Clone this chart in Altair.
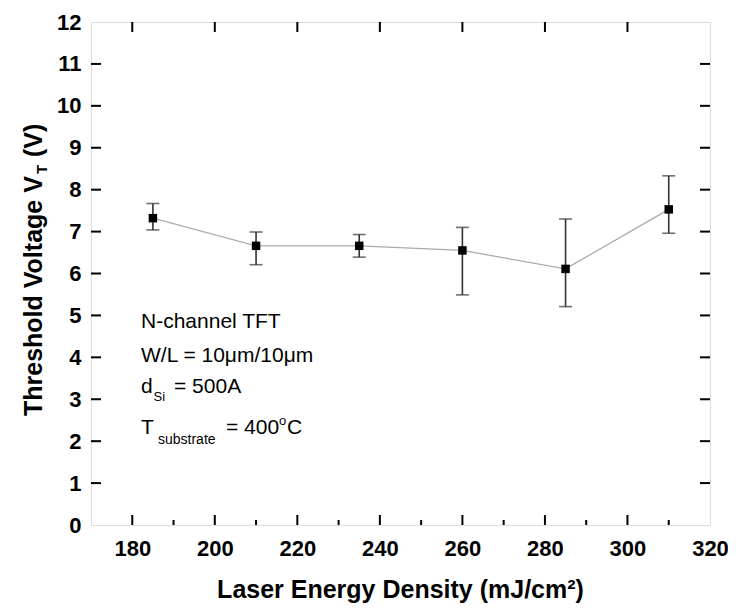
import altair as alt
import pandas as pd

# ---- data ----
energy = [185, 210, 235, 260, 285, 310]
vt = [7.32, 6.66, 6.66, 6.55, 6.11, 7.53]
vt_upper = [7.67, 6.99, 6.93, 7.10, 7.30, 8.33]
vt_lower = [7.04, 6.21, 6.39, 5.49, 5.21, 6.96]

x_labels = [180, 200, 220, 240, 260, 280, 300, 320]
x_major = [180, 200, 220, 240, 260, 280, 300]
x_minor = [190, 210, 230, 250, 270, 290, 310]
y_labels = list(range(0, 13))
y_major = list(range(1, 12))

W, H = 619, 503
FONT = "Liberation Sans"
INK = "#000000"
BAR = "#333333"

df = pd.DataFrame({"E": energy, "V": vt, "hi": vt_upper, "lo": vt_lower})
xs = alt.Scale(domain=[170, 320], nice=False, zero=False)
ys = alt.Scale(domain=[0, 12], nice=False, zero=False)

xaxis = alt.Axis(values=x_labels, title=None, labelFont=FONT, labelFontSize=22,
                 labelFontWeight="bold", labelColor=INK, labelPadding=13,
                 ticks=False, tickSize=0, domain=False, grid=False, labelFlush=False)
yaxis = alt.Axis(values=y_labels, title=None, labelFont=FONT, labelFontSize=22,
                 labelFontWeight="bold", labelColor=INK, labelPadding=10,
                 ticks=False, tickSize=0, domain=False, grid=False, labelFlush=False)

base = alt.Chart(df)
line = base.mark_line(color="#ababab", strokeWidth=1.3).encode(
    x=alt.X("E:Q", scale=xs, axis=xaxis),
    y=alt.Y("V:Q", scale=ys, axis=yaxis),
)
bars = base.mark_rule(color=BAR, strokeWidth=1.6).encode(
    x=alt.X("E:Q", scale=xs), y=alt.Y("lo:Q", scale=ys), y2="hi:Q"
)
cap_hi = base.mark_tick(orient="horizontal", size=13, thickness=1.6, color=BAR).encode(
    x=alt.X("E:Q", scale=xs), y=alt.Y("hi:Q", scale=ys)
)
cap_lo = base.mark_tick(orient="horizontal", size=13, thickness=1.6, color=BAR).encode(
    x=alt.X("E:Q", scale=xs), y=alt.Y("lo:Q", scale=ys)
)
pts = base.mark_square(size=72, color=INK, opacity=1, filled=True).encode(
    x=alt.X("E:Q", scale=xs), y=alt.Y("V:Q", scale=ys)
)

# inward ticks on the frame
xmaj = alt.Chart(pd.DataFrame({"t": x_major}))
xmin = alt.Chart(pd.DataFrame({"t": x_minor}))
ymaj = alt.Chart(pd.DataFrame({"t": y_major}))
tick_layers = [
    xmaj.mark_rule(color=INK, strokeWidth=2).encode(
        x=alt.X("t:Q", scale=xs), y=alt.value(H), y2=alt.value(H - 10)),
    xmin.mark_rule(color=INK, strokeWidth=2).encode(
        x=alt.X("t:Q", scale=xs), y=alt.value(H), y2=alt.value(H - 5)),
    xmaj.mark_rule(color=INK, strokeWidth=2).encode(
        x=alt.X("t:Q", scale=xs), y=alt.value(0), y2=alt.value(10)),
    ymaj.mark_rule(color=INK, strokeWidth=2).encode(
        y=alt.Y("t:Q", scale=ys), x=alt.value(0), x2=alt.value(10)),
    ymaj.mark_rule(color=INK, strokeWidth=2).encode(
        y=alt.Y("t:Q", scale=ys), x=alt.value(W), x2=alt.value(W - 10)),
]

# text pieces: (text, x, y, size, weight, angle)
AX = 50
pieces = [
    ("N-channel TFT", AX, 306, 21, "normal", 0),
    ("W/L = 10\u03bcm/10\u03bcm", AX, 340, 21, "normal", 0),
    ("d", AX, 371, 21, "normal", 0),
    ("Si", AX + 12.5, 379, 13, "normal", 0),
    ("= 500A", AX + 33, 371, 21, "normal", 0),
    ("T", AX, 412, 21, "normal", 0),
    ("substrate", AX + 17, 422, 14, "normal", 0),
    ("= 400", AX + 85, 412, 21, "normal", 0),
    ("o", AX + 138, 403, 13, "normal", 0),
    ("C", AX + 146, 412, 21, "normal", 0),
    # y title (rotated)
    ("Threshold Voltage V", -49, 394, 25, "bold", 270),
    ("T", -44, 152, 15, "bold", 270),
    ("(V)", -49, 135, 25, "bold", 270),
]
text_layers = []
for t, px, py, fs, fw, ang in pieces:
    text_layers.append(
        alt.Chart(pd.DataFrame({"s": [t]})).mark_text(
            align="left", baseline="alphabetic", font=FONT, fontSize=fs,
            fontWeight=fw, color=INK, angle=ang,
        ).encode(x=alt.value(px), y=alt.value(py), text="s:N")
    )
xtitle = alt.Chart(pd.DataFrame({"s": ["Laser Energy Density (mJ/cm\u00b2)"]})).mark_text(
    align="center", baseline="alphabetic", font=FONT, fontSize=25,
    fontWeight="bold", color=INK,
).encode(x=alt.value(W / 2), y=alt.value(H + 73), text="s:N")

chart = alt.layer(
    line, bars, cap_hi, cap_lo, pts, *tick_layers, *text_layers, xtitle
).properties(
    width=W, height=H,
    autosize=alt.AutoSizeParams(type="none"),
    padding={"left": 83, "top": 14, "right": 18, "bottom": 78},
).configure_view(stroke=INK, strokeWidth=2).configure(background="white")

chart.save("out.html", embed_options={"renderer": "svg", "actions": False})
